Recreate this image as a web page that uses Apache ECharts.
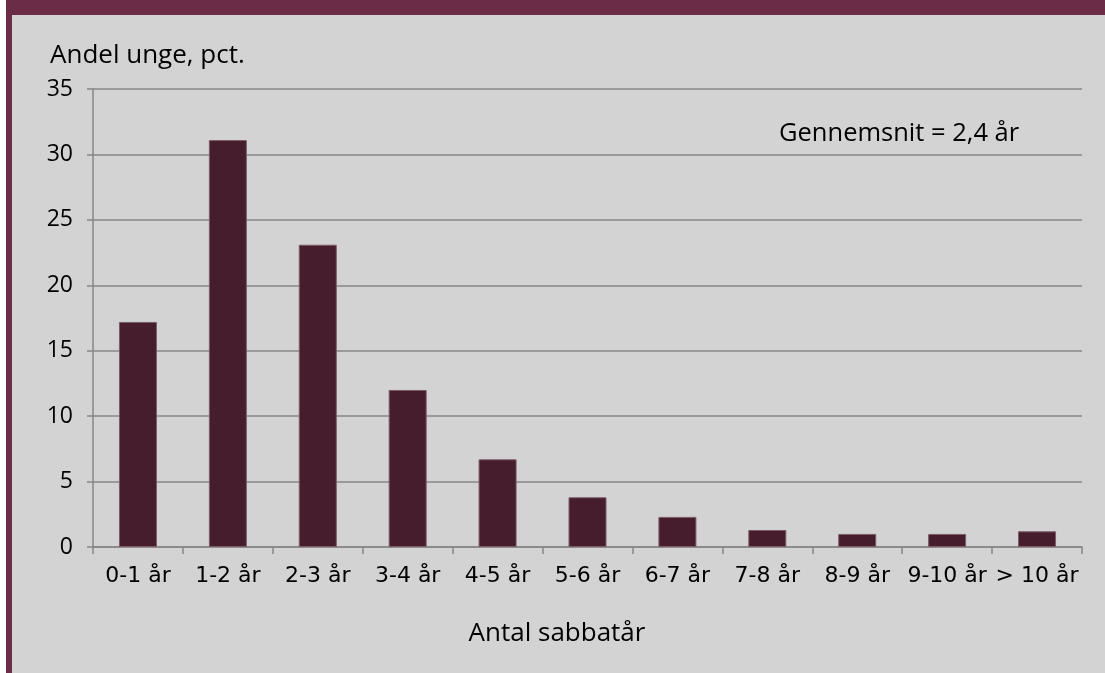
<!DOCTYPE html>
<html lang="da">
<head>
<meta charset="UTF-8">
<title>Antal sabbatår</title>
<script src="https://cdn.jsdelivr.net/npm/echarts@6/dist/echarts.min.js"></script>
<style>
  html, body { margin: 0; padding: 0; background: #ffffff; }
  #main { width: 1105px; height: 673px; }
</style>
</head>
<body>
<div id="main"></div>
<script>
// data
var categories = ['0-1 år', '1-2 år', '2-3 år', '3-4 år', '4-5 år', '5-6 år', '6-7 år', '7-8 år', '8-9 år', '9-10 år', '> 10 år'];
var shares = [17.2, 31.1, 23.1, 12.0, 6.7, 3.8, 2.3, 1.3, 1.0, 1.0, 1.2];
var yTicks = [0, 5, 10, 15, 20, 25, 30, 35];

var maroon = '#6a2c46';
var panel = '#d3d3d3';
var gridGray = '#878787';

var chart = echarts.init(document.getElementById('main'));

var option = {
  backgroundColor: '#ffffff',
  animation: false,
  graphic: [
    // frame
    { type: 'rect', left: 6, top: 0, z: -10, shape: { width: 1099, height: 673 }, style: { fill: maroon } },
    { type: 'rect', left: 12, top: 15, z: -9, shape: { width: 1093, height: 658 }, style: { fill: panel } },
    { type: 'text', left: 50, top: 43, style: { text: 'Andel unge, pct.', font: '26px "Open Sans"', fill: '#000', verticalAlign: 'middle' } },
    { type: 'text', left: 779, top: 121, style: { text: 'Gennemsnit = 2,4 år', font: '25.5px "Open Sans"', fill: '#000', verticalAlign: 'middle' } },
    { type: 'text', x: 557, y: 634, style: { text: 'Antal sabbatår', font: '26px "Open Sans"', fill: '#000', align: 'center', verticalAlign: 'middle' } }
  ],
  grid: { left: 93, right: 23, top: 89, bottom: 126, containLabel: false },
  xAxis: {
    type: 'category',
    data: categories,
    axisLine: { lineStyle: { color: gridGray, width: 1.5 } },
    axisTick: { show: true, length: 7, lineStyle: { color: gridGray, width: 1.5 } },
    axisLabel: { color: '#000', fontFamily: 'DejaVu Sans', fontSize: 22, margin: 18, interval: 0 }
  },
  yAxis: {
    type: 'value',
    min: yTicks[0],
    max: yTicks[yTicks.length - 1],
    interval: 5,
    axisLine: { show: true, lineStyle: { color: gridGray, width: 1.5 } },
    axisTick: { show: true, length: 6, lineStyle: { color: gridGray, width: 1.5 } },
    axisLabel: { color: '#000', fontFamily: 'Open Sans', fontSize: 23, margin: 20 },
    splitLine: { lineStyle: { color: gridGray, width: 1.5 } }
  },
  series: [{
    type: 'bar',
    data: shares,
    barWidth: 38,
    itemStyle: { color: '#461d2d', borderColor: '#7d5b69', borderWidth: 1 }
  }]
};

chart.setOption(option);
</script>
</body>
</html>
